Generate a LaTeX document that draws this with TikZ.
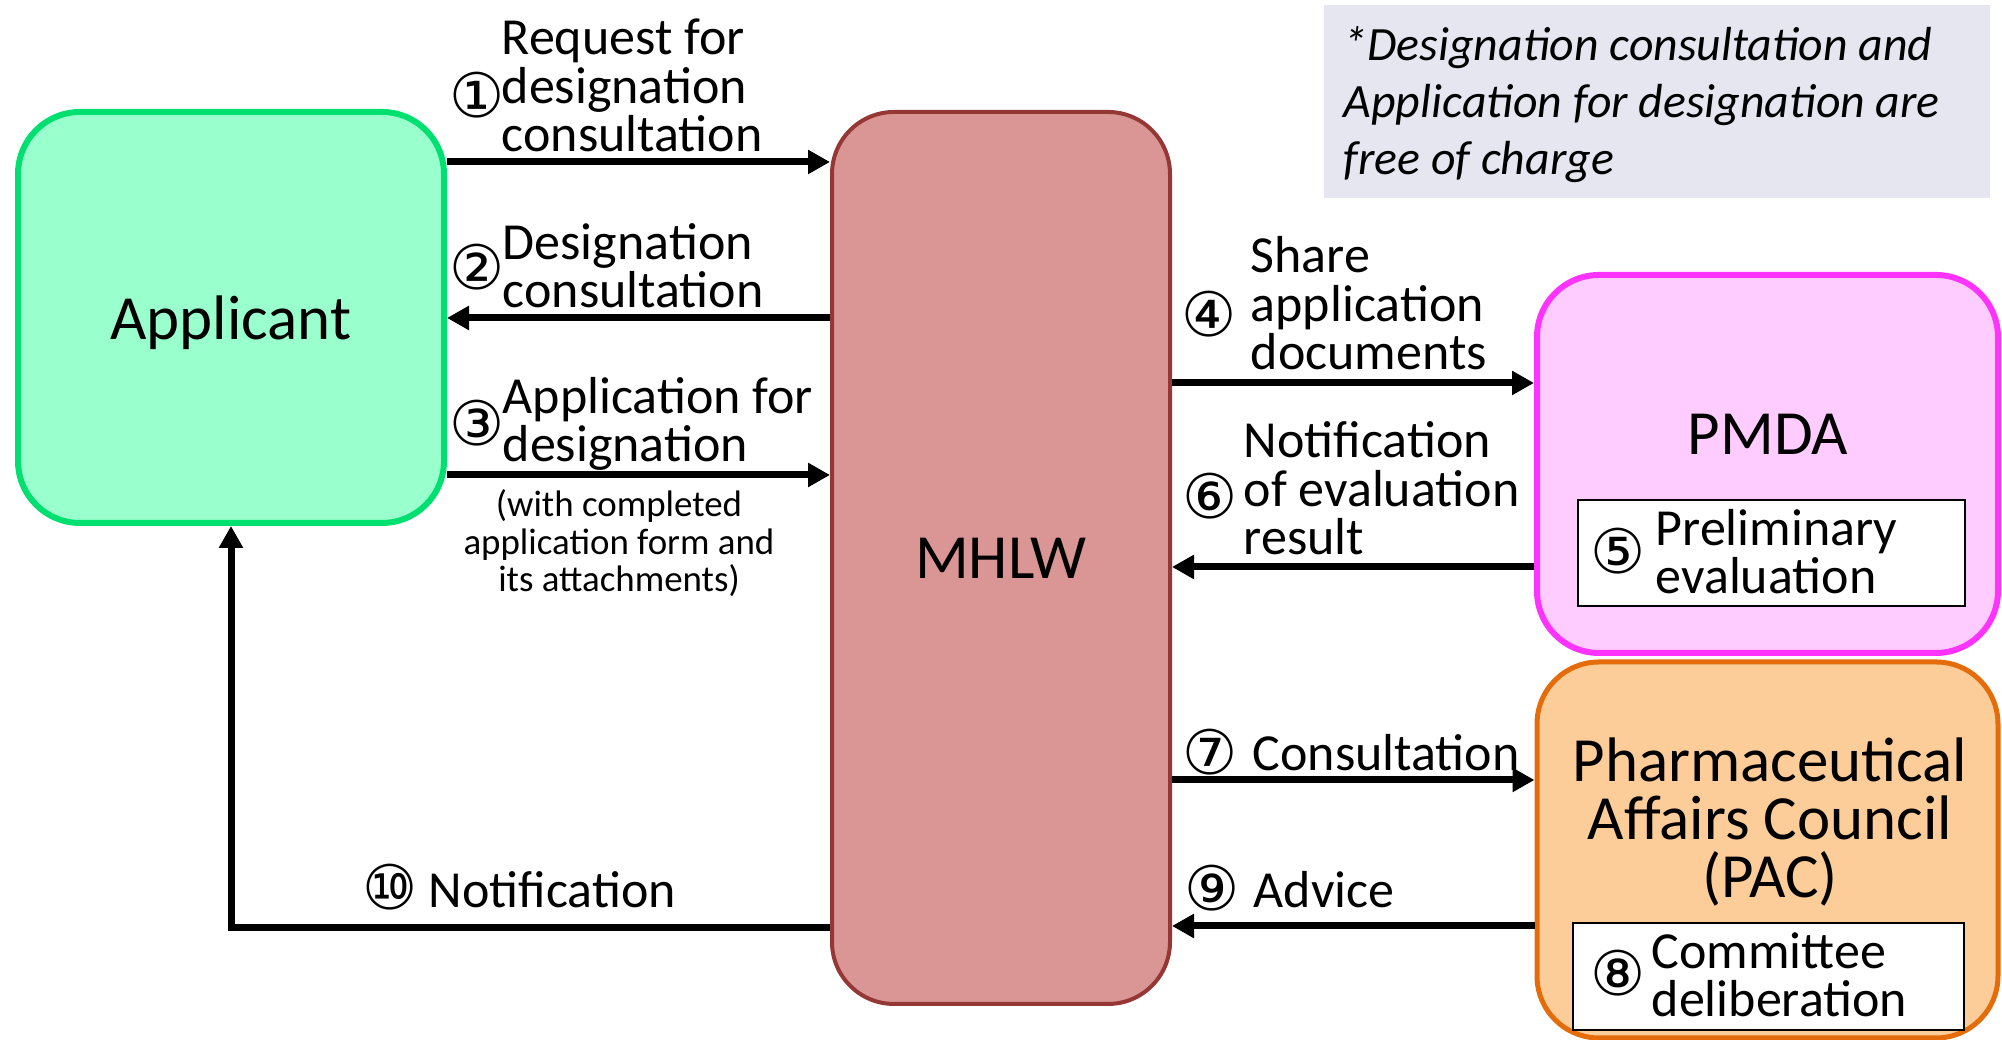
\documentclass[tikz,border=0pt]{standalone}
\usepackage{fontspec}
\setmainfont{Carlito}
\newfontfamily\circfont{DejaVu Sans}
\usetikzlibrary{arrows.meta,positioning}
\definecolor{appline}{RGB}{0,224,112}
\definecolor{appfill}{RGB}{153,255,204}
\definecolor{mhlwline}{RGB}{149,55,53}
\definecolor{mhlwfill}{RGB}{217,150,148}
\definecolor{pmdaline}{RGB}{255,51,255}
\definecolor{pmdafill}{RGB}{255,204,255}
\definecolor{pacline}{RGB}{228,108,10}
\definecolor{pacfill}{RGB}{252,204,153}
\definecolor{notefill}{RGB}{230,230,240}

\begin{document}
\begin{tikzpicture}[
  box/.style={draw, rounded corners=0.62cm, inner sep=0},
  big/.style={font=\fontsize{17.9}{16.5}\selectfont, align=center},
  lbl/.style={font=\fontsize{14.8}{13.7}\selectfont, align=left,
              anchor=south west, inner sep=0, text depth=0pt},
  num/.style={font=\circfont\fontsize{17.5}{17.5}\selectfont, inner sep=0},
  subbox/.style={draw, fill=white, line width=0.02cm},
  arr/.style={-{Triangle[length=0.22cm, width=0.23cm]}, line width=0.07cm}
]
\useasboundingbox (0,0) rectangle (20.02,10.40);

% Note on fees
\node[fill=notefill, minimum width=6.66cm, minimum height=1.93cm] (note) at (16.565,9.385) {};
\node[font=\fontsize{13.6}{16.2}\selectfont\itshape, align=left, anchor=south west,
      inner sep=0, text depth=0pt] (notetxt) at (13.43,8.645)
  {*Designation consultation and\\Application for designation are\\free of charge};

% Applicant
\node[box, big, fill=appfill, draw=appline, line width=0.06cm, text depth=0pt,
      minimum width=4.26cm, minimum height=4.11cm] (app) at (2.31,7.225) {Applicant};

% MHLW
\node[box, big, fill=mhlwfill, draw=mhlwline, line width=0.04cm,
      minimum width=3.38cm, minimum height=8.92cm] (mhlw) at (10.01,4.82) {MHLW};

% PMDA with preliminary evaluation
\node[box, fill=pmdafill, draw=pmdaline, line width=0.06cm,
      minimum width=4.61cm, minimum height=3.78cm] (pmda) at (17.675,5.76) {};
\node[big, anchor=base] (pmdatxt) at (17.68,5.85) {PMDA};
\node[subbox, minimum width=3.87cm, minimum height=1.06cm] (prelim) at (17.715,4.87) {};
\node[num] (n5) at (16.18,4.89) {⑤};
\node[lbl] (l5) at (16.55,4.46) {Preliminary\\evaluation};

% PAC with committee deliberation
\node[box, fill=pacfill, draw=pacline, line width=0.05cm,
      minimum width=4.61cm, minimum height=3.76cm] (pac) at (17.675,1.90) {};
\node[big, anchor=south, inner sep=0, text depth=0pt] (pactxt) at (17.70,1.42)
  {Pharmaceutical\\Affairs Council\\(PAC)};
\node[subbox, minimum width=3.91cm, minimum height=1.07cm] (cmte) at (17.685,0.635) {};
\node[num] (n8) at (16.18,0.67) {⑧};
\node[lbl] (l8) at (16.51,0.23) {Committee\\deliberation};

% Applicant <-> MHLW
\draw[arr] (app.east |- 0,8.78) -- (mhlw.west |- 0,8.78);
\node[num] (n1) at (4.77,9.45) {①};
\node[lbl] (l1) at (5.01,8.88) {Request for\\designation\\consultation};

\draw[arr] (mhlw.west |- 0,7.22) -- (app.east |- 0,7.22);
\node[num] (n2) at (4.77,7.73) {②};
\node[lbl] (l2) at (5.02,7.32) {Designation\\consultation};

\draw[arr] (app.east |- 0,5.65) -- (mhlw.west |- 0,5.65);
\node[num] (n3) at (4.77,6.17) {③};
\node[lbl] (l3) at (5.02,5.78) {Application for\\designation};
\node[font=\fontsize{10.5}{10.6}\selectfont, align=center, anchor=south,
      inner sep=0, text depth=0pt] (l3b) at (6.19,4.48)
  {(with completed\\application form and\\its attachments)};

% MHLW <-> PMDA
\draw[arr] (mhlw.east |- 0,6.57) -- (pmda.west |- 0,6.57);
\node[num] (n4) at (12.09,7.26) {④};
\node[lbl] (l4) at (12.50,6.70) {Share\\application\\documents};

\draw[arr] (pmda.west |- 0,4.73) -- (mhlw.east |- 0,4.73);
\node[num] (n6) at (12.10,5.44) {⑥};
\node[lbl] (l6) at (12.43,4.85) {Notification\\of evaluation\\result};

% MHLW <-> PAC
\draw[arr] (mhlw.east |- 0,2.60) -- (pac.west |- 0,2.60);
\node[num] (n7) at (12.10,2.88) {⑦};
\node[lbl] (l7) at (12.52,2.69) {Consultation};

\draw[arr] (pac.west |- 0,1.14) -- (mhlw.east |- 0,1.14);
\node[num] (n9) at (12.12,1.52) {⑨};
\node[lbl] (l9) at (12.53,1.32) {Advice};

% Notification back to the applicant
\draw[arr] (mhlw.west |- 0,1.12) -| (app.south);
\node[num] (n10) at (3.90,1.53) {⑩};
\node[lbl] (l10) at (4.28,1.32) {Notification};

\end{tikzpicture}
\end{document}
